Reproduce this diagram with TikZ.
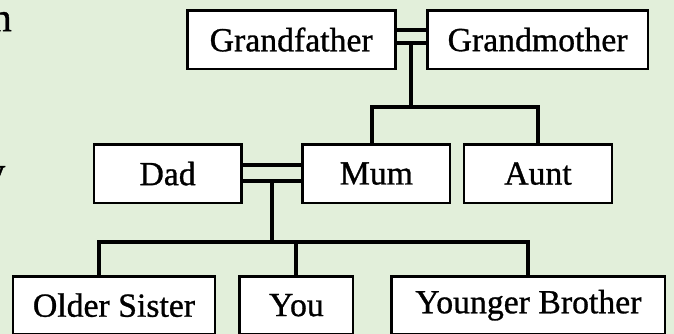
\documentclass[tikz,border=0pt]{standalone}
\usepackage{fontspec}
\setmainfont{Liberation Serif}
\newfontfamily\treefont{Liberation Serif}[FakeBold=0.9]
\usepackage{xcolor}
\usetikzlibrary{calc}
\definecolor{PageGreen}{HTML}{E2EFDA}
\definecolor{TreeBlack}{HTML}{000000}
\definecolor{TreeWhite}{HTML}{FFFFFF}
\tikzset{
    member/.style={
        draw=TreeBlack,
        fill=TreeWhite,
        line width=1.9pt,
        minimum height=1.47cm,
        text=TreeBlack,
        font=\treefont\fontsize{24}{28}\selectfont,
        align=center,
        inner sep=0pt
    },
    link/.style={
        draw=TreeBlack,
        line width=2.8pt
    },
    frag/.style={
        text=TreeBlack,
        font=\treefont\fontsize{29}{34}\selectfont,
        inner sep=0pt
    }
}
\begin{document}
\begin{tikzpicture}
    % page
    \useasboundingbox (0,0) rectangle (16.85,-8.35);
    \clip (0,0) rectangle (16.85,-8.35);
    \fill[PageGreen] (0,0) rectangle (16.85,-8.35);
    \node[frag, anchor=base east] (fragn) at (0.3,-0.78) {n};
    \node[frag, anchor=base east] (fragy) at (0.14,-4.62) {y};

    % Grandparents
    \node[member, minimum width=5.2cm] (gf) at (7.28,-0.99) {Grandfather};
    \node[member, minimum width=5.52cm] (gm) at (13.44,-0.99) {Grandmother};

    % Parents and aunt
    \node[member, minimum width=3.68cm] (dad) at (4.19,-4.34) {Dad};
    \node[member, minimum width=3.68cm] (mum) at (9.41,-4.34) {Mum};
    \node[member, minimum width=3.7cm] (aunt) at (13.45,-4.34) {Aunt};

    % Children
    \node[member, minimum width=5.05cm, minimum height=1.45cm] (os) at (2.85,-7.63) {Older Sister};
    \node[member, minimum width=2.83cm, minimum height=1.45cm] (you) at (7.41,-7.63) {You};
    \node[member, minimum width=6.83cm, minimum height=1.45cm] (yb) at (13.21,-7.63) {Younger Brother};

    % marriage of grandparents
    \draw[link] ([yshift=0.24cm]gf.east) -- ([yshift=0.24cm]gm.west);
    \draw[link] ([yshift=-0.09cm]gf.east) -- ([yshift=-0.09cm]gm.west);
    \draw[link] ([xshift=-0.11cm]mum.north) -- ++(0,0.9) coordinate (sibbar) -| (aunt.north);
    \coordinate (gplow) at ($([yshift=-0.09cm]gf.east)!0.5!([yshift=-0.09cm]gm.west)$);
    \draw[link] (gplow) -- (gplow |- sibbar);

    % marriage of parents
    \draw[link] ([yshift=0.21cm]dad.east) -- ([yshift=0.21cm]mum.west);
    \draw[link] ([yshift=-0.19cm]dad.east) -- ([yshift=-0.19cm]mum.west);
    \draw[link] ([xshift=-0.37cm]os.north) -- ++(0,0.83) coordinate (kidbar) -| (yb.north);
    \draw[link] (you.north) -- (you.north |- kidbar);
    \coordinate (pplow) at ($([yshift=-0.19cm]dad.east)!0.5!([yshift=-0.19cm]mum.west)$);
    \draw[link] (pplow) -- (pplow |- kidbar);
\end{tikzpicture}
\end{document}
